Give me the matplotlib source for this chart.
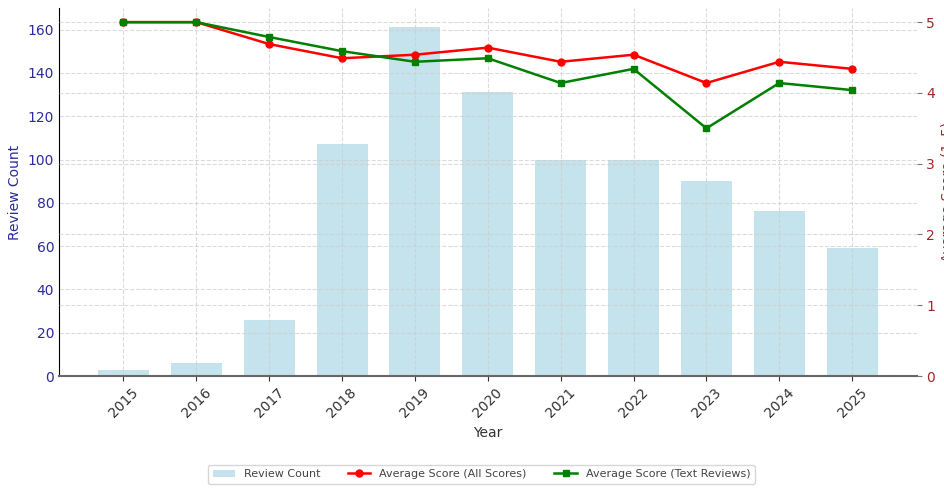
import numpy as np
import matplotlib
matplotlib.use("Agg")
import matplotlib.pyplot as plt

# data
years = ["2015", "2016", "2017", "2018", "2019", "2020", "2021", "2022", "2023", "2024", "2025"]
review_count = [3, 6, 26, 107, 161, 131, 100, 100, 90, 76, 59]
avg_all = [5.0, 5.0, 4.69, 4.49, 4.54, 4.64, 4.44, 4.54, 4.14, 4.44, 4.34]
avg_text = [5.0, 5.0, 4.79, 4.59, 4.44, 4.49, 4.14, 4.34, 3.50, 4.14, 4.04]

left_col = "#2b2b9c"
right_col = "#a02828"

fig = plt.figure(figsize=(9.44, 4.88), dpi=100)
ax = fig.add_axes([0.0625, 0.2295, 0.9085, 0.7541])
x = np.arange(len(years))

bars = ax.bar(x, review_count, width=0.7, color="lightblue", alpha=0.7, label="Review Count")
ax.set_ylim(0, 170)
ax.set_yticks(range(0, 161, 20))
ax.set_ylabel("Review Count", color=left_col, fontsize=10)
ax.tick_params(axis="y", colors=left_col, labelsize=10, length=0)
ax.set_xticks(x)
ax.set_xticklabels(years, rotation=45, fontsize=10, color="#333333")
ax.tick_params(axis="x", colors="#333333")
ax.set_xlabel("Year", fontsize=10, color="#333333")
ax.grid(True, linestyle="--", color="#cccccc", alpha=0.7, linewidth=0.8)

ax2 = ax.twinx()
l1, = ax2.plot(x, avg_all, color="red", marker="o", markersize=5, linewidth=1.8,
               label="Average Score (All Scores)")
l2, = ax2.plot(x, avg_text, color="green", marker="s", markersize=5, linewidth=1.8,
               label="Average Score (Text Reviews)")
ax2.set_ylim(0, 5.2)
ax2.set_yticks(range(0, 6))
ax2.set_ylabel("Average Score (1–5)", color=right_col, fontsize=10)
ax2.tick_params(axis="y", labelcolor=right_col, color="#777777", labelsize=10)
ax2.grid(True, linestyle="--", color="#cccccc", alpha=0.7, linewidth=0.8)

for a in (ax, ax2):
    a.spines["top"].set_visible(False)
    a.spines["right"].set_visible(False)
ax2.spines["left"].set_visible(False)
ax2.spines["bottom"].set_visible(False)
ax.spines["left"].set_color("black")
ax.spines["bottom"].set_color("#666666")
ax.spines["bottom"].set_linewidth(1.5)

fig.legend([bars, l1, l2], [bars.get_label(), l1.get_label(), l2.get_label()],
           loc="center", bbox_to_anchor=(0.51, 0.028), ncol=3, fontsize=8,
           labelcolor="#444444", frameon=True, columnspacing=2.5)

fig.savefig("out.png", dpi=100)
